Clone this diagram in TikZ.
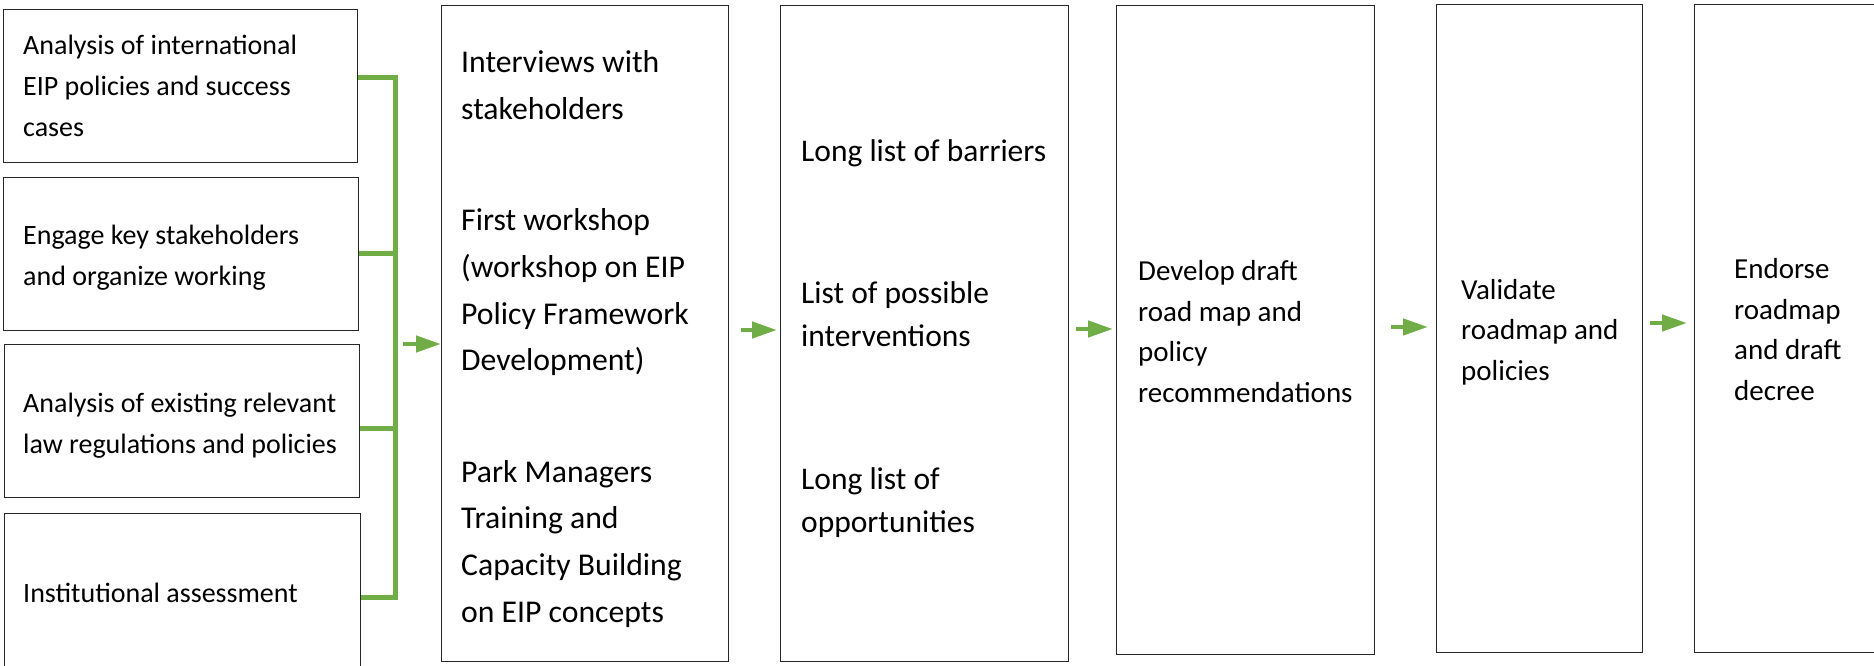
\documentclass[tikz,border=0pt]{standalone}
\usepackage{fontspec}
\setmainfont{Carlito}
\usepackage{xcolor}
\usepackage{tikz}
\usetikzlibrary{
    positioning,
    calc,
    arrows.meta
}
\definecolor{leaf}{HTML}{70AD47}
\tikzset{
  stage/.style = {
      draw=black!85,
      line width=1.2pt,
      rectangle,
      anchor=north west,
      inner sep=0pt
  },
  side/.style = {
      stage,
      minimum height=153pt
  },
  caption/.style = {
      align=left,
      anchor=base west,
      inner sep=0pt
  },
  small/.style = {
      caption,
      font=\fontsize{28}{41}\selectfont
  },
  big/.style = {
      caption,
      font=\fontsize{31.7}{46.6}\selectfont
  },
  mid/.style = {
      caption,
      font=\fontsize{31.5}{43}\selectfont
  },
  tail/.style = {
      caption,
      font=\fontsize{29}{40.5}\selectfont
  },
  bus/.style = {
      draw=leaf,
      line width=5pt
  },
  flow/.style = {
      draw=leaf,
      line width=4.5pt,
      -{Triangle[length=25pt,width=16pt]}
  }
}

\begin{document}
\begin{tikzpicture}[x=1pt, y=-1pt]
    \useasboundingbox (0,0) rectangle (1874,666);
    \clip (0,0) rectangle (1874,666);
    % Boxes
    \node[side, minimum width=354pt] (Intl) at (3,9) {};
    \node[side, minimum width=355pt] (Engage) at (3,177) {};
    \node[side, minimum width=355pt] (Laws) at (4,344) {};
    \node[stage, minimum width=356pt, minimum height=180pt] (Inst) at (4,513) {};
    \node[stage, minimum width=287pt, minimum height=656pt] (Interviews) at (441,5) {};
    \node[stage, minimum width=288pt, minimum height=656pt] (Lists) at (780,5) {};
    \node[stage, minimum width=258pt, minimum height=649pt] (Draft) at (1116,5) {};
    \node[stage, minimum width=206pt, minimum height=648pt] (Validate) at (1436,4) {};
    \node[stage, minimum width=210pt, minimum height=648pt] (Endorse) at (1694,4) {};
    % Texts (placed by the baseline of their last line)
    \node[small] (IntlText) at (23,137) {Analysis of international\\EIP policies and success\\cases};
    \node[small] (EngageText) at (23,285) {Engage key stakeholders\\and organize working};
    \node[small] (LawsText) at (23,453) {Analysis of existing relevant\\law regulations and policies};
    \node[small] (InstText) at (23,602) {Institutional assessment};
    \node[big] (InterviewsText) at (461,622) {Interviews with\\stakeholders\\[65pt]First workshop\\(workshop on EIP\\Policy Framework\\Development)\\[65pt]Park Managers\\Training and\\Capacity Building\\on EIP concepts};
    \node[mid] (ListsText) at (801,532) {Long list of barriers\\[99pt]List of possible\\interventions\\[100pt]Long list of\\opportunities};
    \node[tail] (DraftText) at (1138,402) {Develop draft\\road map and\\policy\\recommendations};
    \node[tail] (ValidateText) at (1461,380) {Validate\\roadmap and\\policies};
    \node[tail] (EndorseText) at (1734,400) {Endorse\\roadmap\\and draft\\decree};
    % Bracket
    \coordinate (BusTop) at (395,78);
    \coordinate (BusEnd) at (395,597);
    \draw[bus] (Intl.east |- BusTop) -- (BusTop) -- (BusEnd) -- (Inst.east |- BusEnd);
    \draw[bus] (Engage.east |- 0,253) -- (BusTop |- 0,253);
    \draw[bus] (Laws.east |- 0,428) -- (BusTop |- 0,428);
    % Arrows
    \draw[flow, shorten <=8pt] (BusTop |- 0,344) -- (Interviews.west |- 0,344);
    \draw[flow, shorten <=12pt, shorten >=3pt] (Interviews.east |- 0,330) -- (Lists.west |- 0,330);
    \draw[flow, shorten <=7pt, shorten >=3pt] (Lists.east |- 0,329) -- (Draft.west |- 0,329);
    \draw[flow, shorten <=16pt, shorten >=8pt] (Draft.east |- 0,327) -- (Validate.west |- 0,327);
    \draw[flow, shorten <=7pt, shorten >=7pt] (Validate.east |- 0,323) -- (Endorse.west |- 0,323);
\end{tikzpicture}
\end{document}
